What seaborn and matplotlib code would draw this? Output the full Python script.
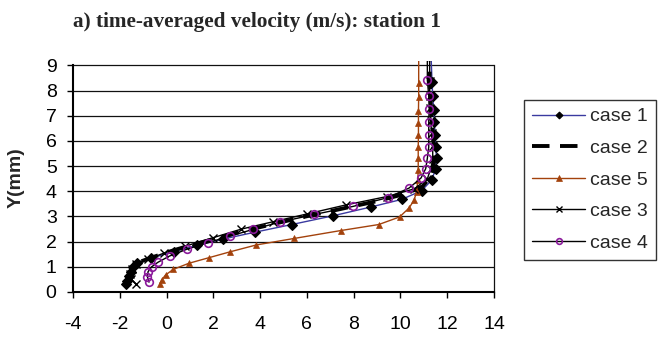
import numpy as np
import pandas as pd
import matplotlib
matplotlib.use("Agg")
import matplotlib.pyplot as plt
import seaborn as sns

# ---------------- data ----------------
case1_y = [0.30, 0.45, 0.62, 0.80, 1.00, 1.15, 1.35, 1.60, 1.85, 2.10, 2.38, 2.68, 3.03,
           3.38, 3.68, 4.03, 4.45, 4.88, 5.31, 5.77, 6.24, 6.75, 7.25, 7.80, 8.35, 9.60]
case1_x = [-1.75, -1.70, -1.62, -1.52, -1.42, -1.25, -0.65, 0.30, 1.30, 2.40, 3.80, 5.35, 7.13,
           8.75, 10.06, 10.91, 11.34, 11.50, 11.55, 11.50, 11.48, 11.45, 11.42, 11.38, 11.35, 11.30]

case2_y = [0.35, 0.55, 0.75, 0.95, 1.15, 1.35, 1.60, 1.85, 2.10, 2.40, 2.70, 3.00, 3.30,
           3.60, 3.90, 4.20, 4.60, 5.00, 5.40, 5.90, 6.40, 6.90, 7.40, 7.90, 8.50, 9.60]
case2_x = [-1.60, -1.65, -1.58, -1.47, -1.28, -0.70, 0.10, 1.00, 2.00, 3.20, 4.55, 5.95, 7.45,
           8.95, 10.20, 10.95, 11.30, 11.42, 11.45, 11.42, 11.38, 11.33, 11.30, 11.28, 11.25, 11.25]

case5_y = [0.31, 0.48, 0.68, 0.90, 1.14, 1.36, 1.60, 1.87, 2.13, 2.44, 2.68, 2.98, 3.33,
           3.64, 3.98, 4.45, 4.85, 5.31, 5.77, 6.24, 6.70, 7.19, 7.76, 8.32, 9.60]
case5_x = [-0.28, -0.21, -0.04, 0.29, 0.95, 1.80, 2.73, 3.84, 5.47, 7.44, 9.07, 9.96, 10.36,
           10.58, 10.69, 10.74, 10.76, 10.76, 10.76, 10.77, 10.77, 10.77, 10.78, 10.78, 10.78]

case3_y = [0.30, 0.50, 0.70, 0.90, 1.10, 1.30, 1.55, 1.82, 2.16, 2.50, 2.79, 3.10, 3.46,
           3.79, 4.10, 4.50, 4.90, 5.30, 5.80, 6.30, 6.80, 7.30, 7.80, 8.40, 9.60]
case3_x = [-1.30, -1.50, -1.58, -1.48, -1.32, -0.80, -0.10, 0.80, 2.00, 3.20, 4.55, 6.00, 7.67,
           9.41, 10.60, 11.15, 11.30, 11.38, 11.38, 11.33, 11.30, 11.28, 11.25, 11.25, 11.25]

case4_y = [0.39, 0.61, 0.81, 1.00, 1.18, 1.43, 1.70, 1.96, 2.22, 2.49, 2.78, 3.08, 3.40,
           3.75, 4.13, 4.53, 4.90, 5.31, 5.76, 6.24, 6.77, 7.28, 7.79, 8.42, 9.60]
case4_x = [-0.75, -0.82, -0.79, -0.64, -0.37, 0.13, 0.87, 1.77, 2.71, 3.71, 4.86, 6.32, 7.97,
           9.47, 10.37, 10.88, 11.08, 11.15, 11.21, 11.21, 11.21, 11.23, 11.21, 11.15, 11.15]

x_ticks = [-4, -2, 0, 2, 4, 6, 8, 10, 12, 14]
y_ticks = [0, 1, 2, 3, 4, 5, 6, 7, 8, 9]
title = "a) time-averaged velocity (m/s): station 1"
ylabel = "Y(mm)"

# ---------------- style ----------------
sns.set_style("white")
plt.rcParams["font.family"] = ["Liberation Sans", "DejaVu Sans"]

W, H = 658, 341
fig = plt.figure(figsize=(W / 100, H / 100), dpi=100)
ax_left, ax_right, ax_bottom_px, ax_top_px = 73, 494, 292, 61
ax = fig.add_axes([ax_left / W, 1 - ax_bottom_px / H,
                   (ax_right - ax_left) / W, (ax_bottom_px - ax_top_px) / H])

BROWN = "#a3420c"
PURPLE = "#8b1a9b"
BLUE = "#3a3aa0"

def draw(xs, ys, **kw):
    df = pd.DataFrame({"x": xs, "y": ys})
    sns.lineplot(data=df, x="x", y="y", sort=False, estimator=None, ax=ax, **kw)

draw(case1_x, case1_y, color=BLUE, lw=1.0, marker="D", markersize=4.6,
     markerfacecolor="black", markeredgecolor="black", markeredgewidth=0.8, label="case 1")
draw(case2_x, case2_y, color="black", lw=2.8, dashes=(4.5, 2.7), label="case 2")
draw(case5_x, case5_y, color=BROWN, lw=1.0, marker="^", markersize=5,
     markerfacecolor=BROWN, markeredgecolor=BROWN, markeredgewidth=0.5, label="case 5")
draw(case3_x, case3_y, color="black", lw=1.0, marker="x", markersize=5.5,
     markeredgecolor="black", markeredgewidth=1.0, label="case 3")
draw(case4_x, case4_y, color="black", lw=1.0, marker="o", markersize=5.5,
     markerfacecolor="none", markeredgecolor=PURPLE, markeredgewidth=1.2, label="case 4")

ax.set_xlim(-4, 14)
ax.set_ylim(0, (ax_bottom_px - ax_top_px) / 25.17)
ax.set_xticks(x_ticks)
ax.set_yticks(y_ticks)
ax.set_xticklabels([str(t) for t in x_ticks])
ax.set_yticklabels([str(t) for t in y_ticks])
ax.set_xlabel("")
ax.set_ylabel(ylabel, fontsize=14, fontweight="bold")
ax.yaxis.set_label_coords((25 - ax_left) / (ax_right - ax_left), 0.494)

ax.yaxis.grid(True, color="#111111", lw=0.9)
ax.xaxis.grid(False)
ax.set_axisbelow(True)

ax.spines["top"].set_visible(False)
ax.spines["right"].set_bounds(0, 9)
ax.spines["right"].set_color("#111111")
ax.spines["right"].set_linewidth(0.9)
ax.spines["left"].set_bounds(0, 9)
for s in ["left", "bottom"]:
    ax.spines[s].set_color("black")
    ax.spines[s].set_linewidth(1.5)

ax.tick_params(axis="both", direction="out", length=4.3, width=1.0, color="black",
               labelsize=14, labelcolor="black")
ax.tick_params(axis="x", pad=13)
ax.tick_params(axis="y", pad=7.5)
ax.tick_params(left=True, bottom=True)

fig.text(73 / W, 1 - 22 / H, title, ha="left", va="center", fontsize=15.3,
         fontweight="bold", family=["Liberation Serif", "DejaVu Serif"])

handles, labels = ax.get_legend_handles_labels()
if ax.get_legend() is not None:
    ax.get_legend().remove()
leg = fig.legend(handles, labels, loc="upper left",
                 bbox_to_anchor=(524 / W, 1 - 100 / H), bbox_transform=fig.transFigure,
                 fontsize=14, frameon=True, fancybox=False, shadow=False,
                 borderpad=0.4, labelspacing=0.72, handlelength=2.75, handletextpad=0.25,
                 borderaxespad=0.0, markerscale=0.75)
leg.get_frame().set_edgecolor("black")
leg.get_frame().set_linewidth(1.0)

fig.savefig("out.png", dpi=100)
